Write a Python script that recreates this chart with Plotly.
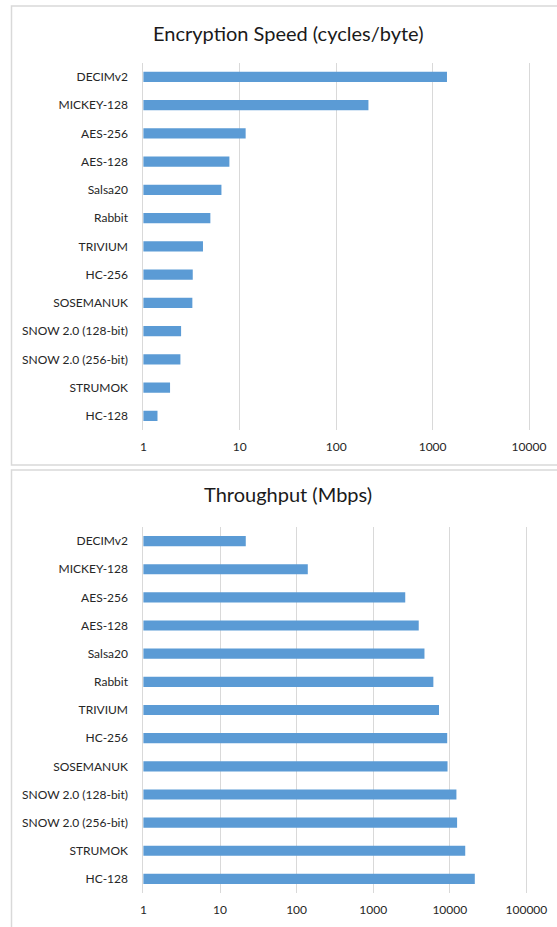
import plotly.graph_objects as go

# ---- data ----
ciphers = ["DECIMv2", "MICKEY-128", "AES-256", "AES-128", "Salsa20", "Rabbit",
           "TRIVIUM", "HC-256", "SOSEMANUK", "SNOW 2.0 (128-bit)",
           "SNOW 2.0 (256-bit)", "STRUMOK", "HC-128"]
cycles_per_byte = [1410, 216, 11.5, 7.8, 6.45, 4.95, 4.15, 3.25, 3.22, 2.46, 2.42, 1.89, 1.40]
throughput_mbps = [21.7, 140, 2620, 3930, 4670, 6100, 7230, 9250, 9340, 12200, 12450, 15900, 21200]

ticks_speed = [1, 10, 100, 1000, 10000]
ticks_speed_text = ["1", "10", "100", "1000", "10000"]
ticks_tp = [1, 10, 100, 1000, 10000, 100000]
ticks_tp_text = ["1", "10", "100", "1000", "10000", "100000"]

title_speed = "Encryption Speed (cycles/byte)"
title_tp = "Throughput (Mbps)"

# ---- style ----
W, H = 557, 927
FONT = "Lato"
BAR = "#5B9BD5"
GRID = "#d9d9d9"
TXT = "#262626"
EPS = 0.04  # range padding on the right so the last gridline is drawn


def px(x):
    return x / W


def py(y):
    return 1 - y / H


fig = go.Figure()
fig.add_trace(go.Bar(x=cycles_per_byte, y=ciphers, orientation="h",
                     marker=dict(color=BAR, line=dict(width=0)), width=0.36,
                     xaxis="x", yaxis="y", hoverinfo="x+y"))
fig.add_trace(go.Bar(x=throughput_mbps, y=ciphers, orientation="h",
                     marker=dict(color=BAR, line=dict(width=0)), width=0.36,
                     xaxis="x2", yaxis="y2", hoverinfo="x+y"))

xcommon = dict(type="log", showgrid=True, gridcolor=GRID, gridwidth=1,
               zeroline=False, showline=False, ticks="", automargin=False,
               ticklabelstandoff=8,
               tickfont=dict(family=FONT, size=12, color=TXT))
ycommon = dict(type="category", autorange="reversed", showgrid=False,
               showline=True, linecolor=GRID, linewidth=1, ticks="",
               ticklabelstandoff=12, zeroline=False, automargin=False,
               tickfont=dict(family=FONT, size=12, color=TXT))

d1 = 96.4   # px per decade, chart 1
d2 = 76.6   # px per decade, chart 2
x0 = 143.4

fig.update_layout(
    width=W, height=H, margin=dict(l=0, r=0, t=0, b=0, autoexpand=False),
    paper_bgcolor="white", plot_bgcolor="white", showlegend=False,
    xaxis=dict(xcommon, range=[0, 4 + EPS],
               domain=[px(x0), px(x0 + (4 + EPS) * d1)],
               tickvals=ticks_speed, ticktext=ticks_speed_text, anchor="y"),
    yaxis=dict(ycommon, domain=[py(430), py(62.7)], anchor="x"),
    xaxis2=dict(xcommon, range=[0, 5 + EPS],
                domain=[px(x0), px(x0 + (5 + EPS) * d2)],
                tickvals=ticks_tp, ticktext=ticks_tp_text, anchor="y2"),
    yaxis2=dict(ycommon, domain=[py(893), py(527)], anchor="x2"),
    annotations=[
        dict(text=title_speed, x=px(288), y=py(33), xref="paper", yref="paper",
             showarrow=False, xanchor="center", yanchor="middle",
             font=dict(family=FONT, size=20, color="#1a1a1a")),
        dict(text=title_tp, x=px(288), y=py(494), xref="paper", yref="paper",
             showarrow=False, xanchor="center", yanchor="middle",
             font=dict(family=FONT, size=20, color="#1a1a1a")),
    ],
    shapes=[
        dict(type="rect", xref="paper", yref="paper", x0=px(11.5), x1=px(575),
             y0=py(465), y1=py(6), line=dict(color=GRID, width=1.5), layer="below"),
        dict(type="rect", xref="paper", yref="paper", x0=px(11.5), x1=px(575),
             y0=py(945), y1=py(470), line=dict(color=GRID, width=1.5), layer="below"),
    ],
    bargap=0.64,
)

fig.write_html("out.html")
